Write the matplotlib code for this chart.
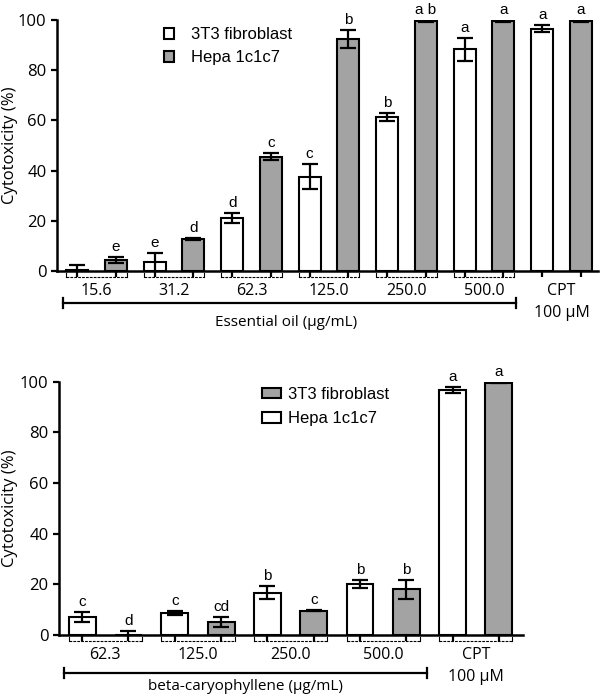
import matplotlib
matplotlib.use("Agg")
import matplotlib.pyplot as plt
import matplotlib.transforms as mtransforms
from matplotlib.patches import Patch
import numpy as np

# ---- data: essential oil panel ----
eo_groups = ["15.6", "31.2", "62.3", "125.0", "250.0", "500.0"]
eo_3t3 = [0.5, 3.5, 21.1, 37.5, 61.3, 88.3, 96.6]
eo_3t3_err = [1.7, 3.8, 2.0, 5.0, 1.5, 4.7, 1.3]
eo_hepa = [4.4, 12.7, 45.6, 92.4, 99.6, 99.6, 99.6]
eo_hepa_err = [1.3, 0.5, 1.4, 3.5, 0.5, 0.5, 0.5]
eo_3t3_letters = ["", "e", "d", "c", "b", "a", "a"]
eo_hepa_letters = ["e", "d", "c", "b", "a b", "a", "a"]

# ---- data: beta-caryophyllene panel ----
bc_groups = ["62.3", "125.0", "250.0", "500.0"]
bc_3t3 = [7.2, 8.8, 16.7, 20.1, 96.7]
bc_3t3_err = [2.0, 0.8, 2.5, 1.6, 1.2]
bc_hepa = [0.0, 5.1, 9.6, 18.0, 99.6]
bc_hepa_err = [1.7, 2.1, 0.3, 3.7, 0.3]
bc_3t3_letters = ["c", "c", "b", "b", "a"]
bc_hepa_letters = ["d", "cd", "c", "b", "a"]

GRAY = "#a3a3a3"
TICKFONT = "Open Sans"
ARIAL = "Liberation Sans"
W, H = 601, 696

fig = plt.figure(figsize=(W / 100, H / 100), dpi=100)


def draw_panel(ax, v1, e1, v2, e2, l1, l2, c1, c2, groups,
               width, bracket_cpt, ax_h_px, xlim):
    n = len(v1)
    x1 = np.arange(n) * 2.0
    x2 = x1 + 1.0
    kw = dict(width=width, edgecolor="black", linewidth=1.5, zorder=2)
    ax.bar(x1, v1, color=c1, **kw)
    ax.bar(x2, v2, color=c2, **kw)
    ekw = dict(fmt="none", ecolor="black", elinewidth=1.6, capsize=5.5,
               capthick=1.6, zorder=3)
    ax.errorbar(x1, v1, yerr=e1, **ekw)
    ax.errorbar(x2, v2, yerr=e2, **ekw)
    for xs, vs, es, ls in ((x1, v1, e1, l1), (x2, v2, e2, l2)):
        for x, v, e, l in zip(xs, vs, es, ls):
            if l:
                ax.text(x, v + e + 1.2, l, ha="center", va="bottom",
                        fontsize=11, family=ARIAL)

    ax.set_ylim(0, 100)
    ax.set_xlim(*xlim)
    ax.set_yticks([0, 20, 40, 60, 80, 100])
    ax.set_xticks(np.concatenate([x1, x2]))
    ax.set_xticklabels([])
    for s in ("top", "right"):
        ax.spines[s].set_visible(False)
    ax.spines["left"].set_linewidth(1.8)
    ax.spines["bottom"].set_linewidth(1.8)
    ax.tick_params(axis="both", direction="out", length=4, width=1.6,
                   labelsize=12)
    for t in ax.get_yticklabels():
        t.set_family(TICKFONT)

    tr = mtransforms.blended_transform_factory(ax.transData, ax.transAxes)
    fy = lambda px: -px / ax_h_px

    # dashed brackets under each pair
    nb = n if bracket_cpt else n - 1
    for i in range(nb):
        a = x1[i] - width / 2
        b = x2[i] + width / 2
        ax.plot([a, b], [fy(5.5), fy(5.5)], transform=tr, clip_on=False,
                color="black", lw=0.8, ls=(0, (2.5, 1)))
        for xx in (a, b):
            ax.plot([xx, xx], [fy(2), fy(5.5)], transform=tr, clip_on=False,
                    color="black", lw=0.8)

    # group labels
    for i, g in enumerate(groups):
        ax.text((x1[i] + x2[i]) / 2, fy(20), g, transform=tr, ha="center",
                va="center", fontsize=11.5, family=TICKFONT)
    cx = (x1[-1] + x2[-1]) / 2
    ax.text(cx, fy(20), "CPT", transform=tr, ha="center", va="center",
            fontsize=11.5, family=TICKFONT)
    ax.text(cx, fy(42), "100 \u00b5M", transform=tr, ha="center", va="center",
            fontsize=11.5, family=TICKFONT)
    return x1, x2, tr, fy


# ---- top panel ----
ax1 = fig.add_axes([57 / W, 1 - 271 / H, (598 - 57) / W, 251 / H])
x1, x2, tr, fy = draw_panel(ax1, eo_3t3, eo_3t3_err, eo_hepa, eo_hepa_err,
                            eo_3t3_letters, eo_hepa_letters, "white", GRAY,
                            eo_groups, 0.57, False, 251, (-0.52, 13.44))
a = x1[0] - 0.57 / 2 - 0.08
b = x2[len(eo_groups) - 1] + 0.57 / 2 + 0.05
ax1.plot([a, b], [fy(32), fy(32)], transform=tr, clip_on=False, color="black", lw=1.6)
for xx in (a, b):
    ax1.plot([xx, xx], [fy(27), fy(37)], transform=tr, clip_on=False, color="black", lw=1.6)
ax1.text((a + b) / 2 - 0.1, fy(51), "Essential oil (\u00b5g/mL)", transform=tr,
         ha="center", va="center", fontsize=11, family=TICKFONT)
h1 = [Patch(facecolor="white", edgecolor="black", lw=1.5, label="3T3 fibroblast"),
      Patch(facecolor=GRAY, edgecolor="black", lw=1.5, label="Hepa 1c1c7")]
ax1.legend(handles=h1, loc="upper left", bbox_to_anchor=(0.182, 1.005),
           frameon=False, borderpad=0, handlelength=0.62, handleheight=0.62,
           handletextpad=1.0, labelspacing=0.5, prop={"family": ARIAL, "size": 12})

# ---- bottom panel ----
ax2 = fig.add_axes([59 / W, 1 - 635 / H, (523 - 59) / W, 253.3 / H])
x1, x2, tr, fy = draw_panel(ax2, bc_3t3, bc_3t3_err, bc_hepa, bc_hepa_err,
                            bc_3t3_letters, bc_hepa_letters, "white", GRAY,
                            bc_groups, 0.58, True, 253.3, (-0.5, 9.52))
a = x1[0] - 0.58 / 2 - 0.1
b = x2[len(bc_groups) - 1] + 0.58 / 2 + 0.15
ax2.plot([a, b], [fy(38), fy(38)], transform=tr, clip_on=False, color="black", lw=1.6)
for xx in (a, b):
    ax2.plot([xx, xx], [fy(33), fy(43)], transform=tr, clip_on=False, color="black", lw=1.6)
ax2.text((a + b) / 2, fy(52), "beta-caryophyllene (\u00b5g/mL)", transform=tr,
         ha="center", va="center", fontsize=11, family=TICKFONT)
h2 = [Patch(facecolor=GRAY, edgecolor="black", lw=1.5, label="3T3 fibroblast"),
      Patch(facecolor="white", edgecolor="black", lw=1.5, label="Hepa 1c1c7")]
ax2.legend(handles=h2, loc="upper left", bbox_to_anchor=(0.42, 1.012),
           frameon=False, borderpad=0, handlelength=1.1, handleheight=0.6,
           handletextpad=0.45, labelspacing=0.55, prop={"family": ARIAL, "size": 12})

fig.text(10 / W, 1 - 145.5 / H, "Cytotoxicity (%)", rotation=90, ha="center",
         va="center", fontsize=12, family=TICKFONT)
fig.text(10 / W, 1 - 508 / H, "Cytotoxicity (%)", rotation=90, ha="center",
         va="center", fontsize=12, family=TICKFONT)

fig.savefig("out.png", dpi=100)
